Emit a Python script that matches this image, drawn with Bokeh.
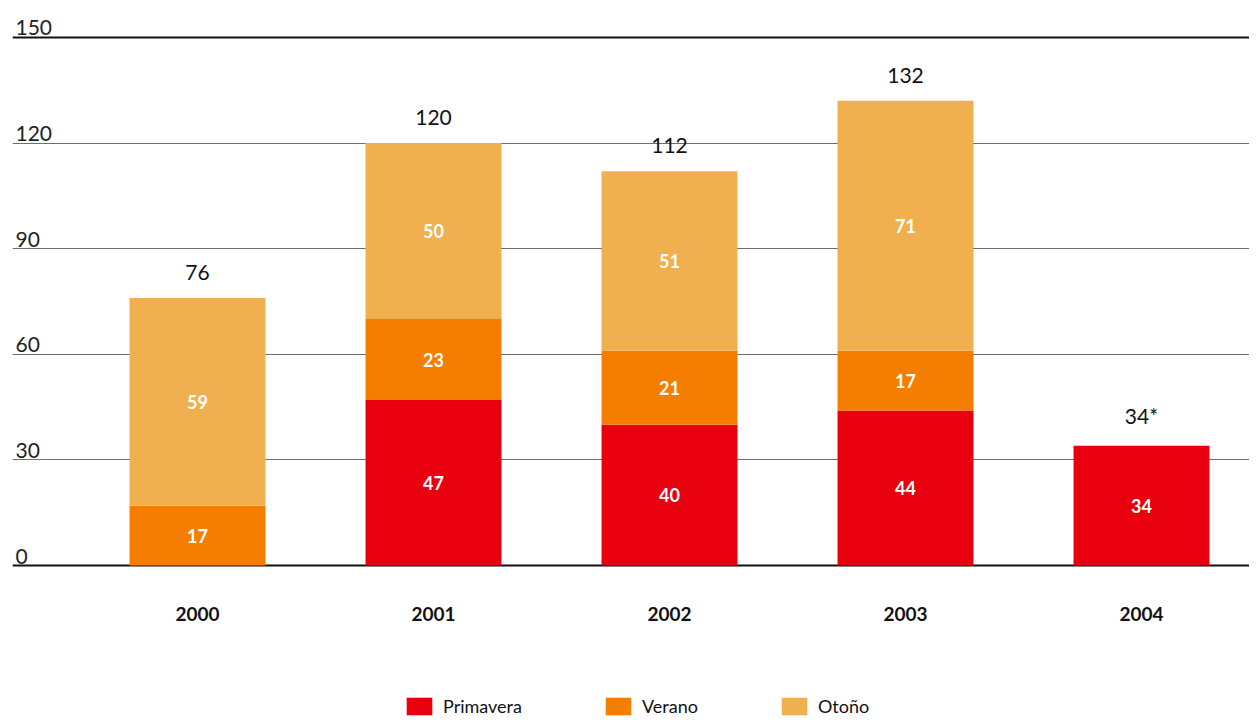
from bokeh.plotting import figure
from bokeh.models import ColumnDataSource, Range1d, FixedTicker, Span
from bokeh.core.properties import value
from bokeh.embed import file_html
from bokeh.resources import INLINE

years = ["2000", "2001", "2002", "2003", "2004"]
primavera = [0, 47, 40, 44, 34]
verano = [17, 23, 21, 17, 0]
otono = [59, 50, 51, 71, 0]
totals = ["76", "120", "112", "132", "34*"]
y_ticks = [0, 30, 60, 90, 120, 150]
series_names = ["Primavera", "Verano", "Otoño"]
colors = ["#e8000e", "#f57d00", "#f1b04f"]

FONT = "Lato"
X0, X1 = -0.7839, 4.4576

x = list(range(len(years)))
src = ColumnDataSource(dict(x=x, Primavera=primavera, Verano=verano, Otoño=otono))

p = figure(width=1249, height=717, output_backend="svg", toolbar_location=None,
           x_range=Range1d(X0, X1), y_range=Range1d(-43.18, 157.67),
           min_border_left=12, min_border_right=0, min_border_top=10, min_border_bottom=0)
p.axis.visible = False
p.xgrid.visible = False
p.outline_line_color = None
p.ygrid.ticker = FixedTicker(ticks=[t for t in y_ticks if t not in (0, 150)])
p.ygrid.grid_line_color = "#6e6e6e"
p.ygrid.grid_line_width = 1.2

for t in (y_ticks[0], y_ticks[-1]):
    p.add_layout(Span(location=t, dimension="width", line_color="#111111", line_width=2, level="underlay"))

renderers = p.vbar_stack(series_names, x="x", width=0.576, color=colors, line_color=None,
                         source=src, legend_label=series_names)

# y tick labels above grid lines at the left edge
p.text(x=[X0] * len(y_ticks), y=y_ticks, text=[str(t) for t in y_ticks],
       text_font=value(FONT), text_font_size="21px", text_color="#222222",
       text_baseline="bottom", text_align="left", x_offset=3, y_offset=-2)

# x category labels
p.text(x=x, y=[0] * len(x), text=years, text_font=value(FONT), text_font_size="19px",
       text_font_style="bold", text_color="#111111", text_baseline="middle",
       text_align="center", y_offset=48)

# totals above bars
tops = [a + b + c for a, b, c in zip(primavera, verano, otono)]
p.text(x=x, y=tops, text=totals, text_font=value(FONT), text_font_size="21px",
       text_color="#111111", text_baseline="bottom", text_align="center", y_offset=-18)

# segment labels inside bars
lx, ly, lt = [], [], []
for i in x:
    base = 0
    for vals in (primavera, verano, otono):
        v = vals[i]
        if v > 0:
            lx.append(i)
            ly.append(base + v / 2)
            lt.append(str(v))
        base += v
p.text(x=lx, y=ly, text=lt, text_font=value(FONT), text_font_size="18px",
       text_font_style="bold", text_color="white", text_baseline="middle", text_align="center")

leg = p.legend[0]
leg.orientation = "horizontal"
leg.location = (391, 0)
leg.padding = 0
leg.margin = 0
leg.spacing = 80
leg.glyph_width = 32
leg.glyph_height = 22
leg.label_standoff = 8
leg.label_text_font = FONT
leg.label_text_font_size = "18px"
leg.label_text_color = "#111111"
leg.border_line_color = None
leg.background_fill_alpha = 0

open("out.html", "w").write(file_html(p, INLINE))
